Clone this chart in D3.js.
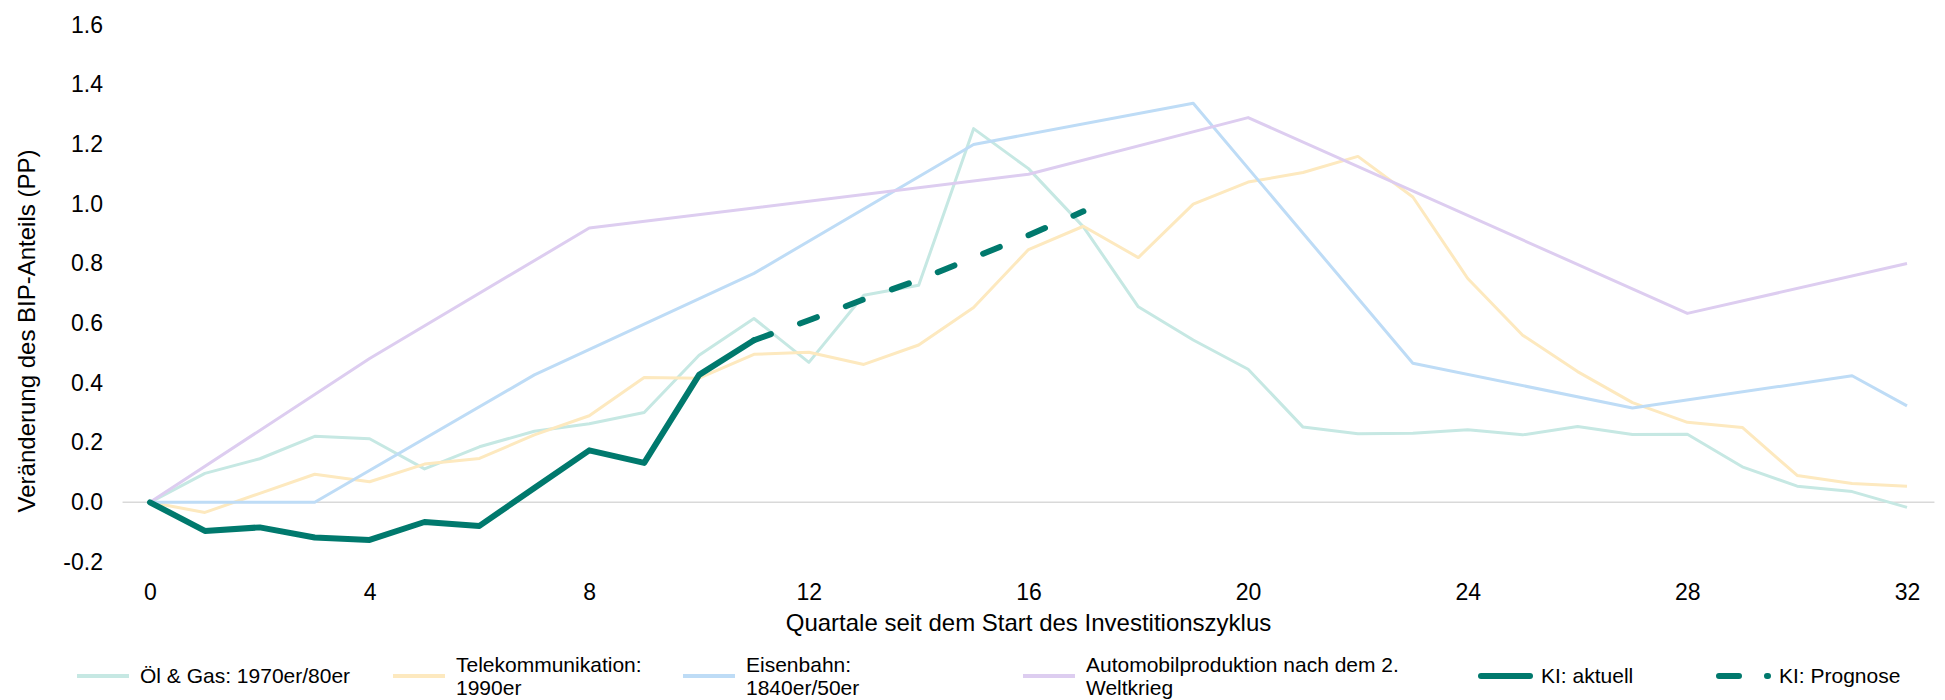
<!--
Investitionszyklen: Veränderung des BIP-Anteils
-->
<body style="margin:0; background:#fff">
<script src="https://cdnjs.cloudflare.com/ajax/libs/d3/7.8.5/d3.min.js"></script>
<script>
// quarters since start of the cycle
var quarters = [0,1,2,3,4,5,6,7,8,9,10,11,12,13,14,15,16,17,18,19,20,21,22,23,24,25,26,27,28,29,30,31,32];
var xTicks = [0,4,8,12,16,20,24,28,32];
var yTicks = [-0.2,0,0.2,0.4,0.6,0.8,1.0,1.2,1.4,1.6];

// Öl & Gas, quarterly
var oilGas = [0, 0.097, 0.146, 0.221, 0.213, 0.112, 0.186, 0.238, 0.263, 0.301, 0.493, 0.616, 0.469,
  0.694, 0.727, 1.252, 1.118, 0.923, 0.655, 0.544, 0.446, 0.252, 0.23, 0.231, 0.243, 0.226, 0.254,
  0.227, 0.228, 0.119, 0.054, 0.036, -0.017];
// Telekommunikation, quarterly
var telecom = [0, -0.034, 0.030, 0.094, 0.069, 0.128, 0.147, 0.226, 0.29, 0.418, 0.416, 0.496, 0.503,
  0.462, 0.527, 0.653, 0.847, 0.925, 0.82, 0.999, 1.073, 1.105, 1.159, 1.023, 0.75, 0.56, 0.438,
  0.334, 0.268, 0.251, 0.09, 0.063, 0.054];
// Eisenbahn, only some quarters observed
var railQ = [0, 3, 7, 11, 15, 19, 23, 27, 31, 32];
var railV = [0, 0, 0.427, 0.767, 1.199, 1.337, 0.466, 0.316, 0.424, 0.323];
// Automobilproduktion
var autoQ = [0, 4, 8, 16, 20, 28, 32];
var autoV = [0, 0.482, 0.919, 1.099, 1.289, 0.633, 0.80];
// KI
var aiQ = [0,1,2,3,4,5,6,7,8,9,10,11];
var aiActual = [0, -0.096, -0.084, -0.118, -0.126, -0.066, -0.079, 0.048, 0.174, 0.132, 0.427, 0.543];
var aiForecastQ = [11, 12, 13, 14, 15, 16, 17];
var aiForecast = [0.543, 0.61, 0.68, 0.745, 0.82, 0.895, 0.975];

var legendLabels = [["Öl & Gas: 1970er/80er"], ["Telekommunikation:", "1990er"], ["Eisenbahn:", "1840er/50er"],
  ["Automobilproduktion nach dem 2.", "Weltkrieg"], ["KI: aktuell"], ["KI: Prognose"]];

var colors = ["#c6e8e3", "#fde9bf", "#bedcf6", "#ddcdf0", "#00796d", "#00796d"];
var legendX = [77, 393, 683, 1023, 1478, 1716];

var width = 1945, height = 700;
var font = "'Liberation Sans', Arial, sans-serif";

var svg = d3.select("body").append("svg")
  .attr("width", width)
  .attr("height", height)
  .style("font-family", font);

var x = d3.scaleLinear().domain([0, 32]).range([150, 1907]);
var y = d3.scaleLinear().domain([-0.2, 1.6]).range([562, 24.8]);

// zero line
svg.append("line")
  .attr("x1", x(-0.5)).attr("x2", x(32.5))
  .attr("y1", y(0)).attr("y2", y(0))
  .attr("stroke", "#d9d9d9")
  .attr("stroke-width", 1.5);

// axes (labels only)
var xAxis = svg.append("g")
  .attr("transform", "translate(0," + 592 + ")")
  .call(d3.axisBottom(x).tickValues(xTicks).tickSize(0).tickPadding(0).tickFormat(d3.format("d")));
xAxis.select(".domain").remove();
xAxis.selectAll("text")
  .attr("dy", "0.35em")
  .style("font-size", "23px")
  .style("font-family", font)
  .attr("fill", "#000");

var yAxis = svg.append("g")
  .attr("transform", "translate(103,0)")
  .call(d3.axisLeft(y).tickValues(yTicks).tickSize(0).tickPadding(0)
    .tickFormat(d => d.toFixed(1)));
yAxis.select(".domain").remove();
yAxis.selectAll("text")
  .style("font-size", "23px")
  .style("font-family", font)
  .attr("fill", "#000");

svg.append("text")
  .attr("x", x(16)).attr("y", 623)
  .attr("dy", "0.35em")
  .attr("text-anchor", "middle")
  .style("font-size", "24px")
  .text("Quartale seit dem Start des Investitionszyklus");

svg.append("text")
  .attr("transform", "translate(27,331) rotate(-90)")
  .attr("dy", "0.35em")
  .attr("text-anchor", "middle")
  .style("font-size", "24px")
  .text("Veränderung des BIP-Anteils (PP)");

var line = d3.line()
  .x(d => x(d[0]))
  .y(d => y(d[1]));

function pairs(qs, vs) { return qs.map((q, i) => [q, vs[i]]); }

var series = [
  {data: pairs(quarters, oilGas), color: colors[0], w: 3},
  {data: pairs(quarters, telecom), color: colors[1], w: 3},
  {data: pairs(railQ, railV), color: colors[2], w: 3},
  {data: pairs(autoQ, autoV), color: colors[3], w: 3},
  {data: pairs(aiQ, aiActual), color: colors[4], w: 6},
  {data: pairs(aiForecastQ, aiForecast), color: colors[5], w: 6, dash: "18,31"}
];

series.forEach(s => {
  svg.append("path")
    .datum(s.data)
    .attr("d", line)
    .attr("fill", "none")
    .attr("stroke", s.color)
    .attr("stroke-width", s.w)
    .attr("stroke-linejoin", "round")
    .attr("stroke-linecap", s.w > 4 ? "round" : "butt")
    .attr("stroke-dasharray", s.dash || null);
});

// legend
var legend = svg.append("g").attr("transform", "translate(0,676)");
legendLabels.forEach((lab, i) => {
  var g = legend.append("g").attr("transform", "translate(" + legendX[i] + ",0)");
  var thick = i >= 4;
  g.append("line")
    .attr("x1", thick ? 3 : 0).attr("x2", 52)
    .attr("y1", 0).attr("y2", 0)
    .attr("stroke", colors[i])
    .attr("stroke-width", thick ? 6 : 4)
    .attr("stroke-linecap", thick ? "round" : "butt")
    .attr("stroke-dasharray", i == 5 ? "20,28" : null);
  var t = g.append("text")
    .attr("x", 63)
    .style("font-size", "21px");
  lab.forEach((l, j) => {
    t.append("tspan")
      .attr("x", 63)
      .attr("dy", j == 0 ? (lab.length > 1 ? "-0.2em" : "0.35em") : "1.1em")
      .text(l);
  });
});
</script>
</body>
